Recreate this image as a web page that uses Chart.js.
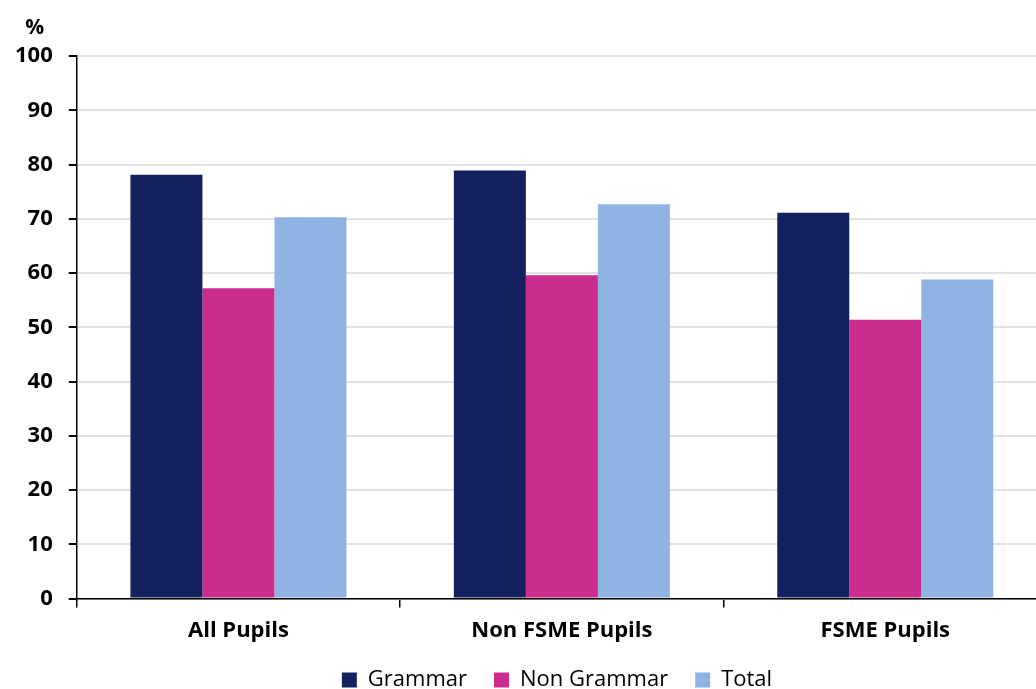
<!DOCTYPE html>
<html>
<head>
<meta charset="utf-8">
<script src="https://cdn.jsdelivr.net/npm/chart.js@4/dist/chart.umd.min.js"></script>
<style>
  html, body { margin: 0; padding: 0; background: #fff; overflow: hidden; }
  #wrap { width: 1110px; height: 689px; }
</style>
</head>
<body>
<div id="wrap"><canvas id="pupilChart"></canvas></div>
<script>
const categories = ['All Pupils', 'Non FSME Pupils', 'FSME Pupils'];
const grammar = [78.1, 78.9, 71.1];
const nonGrammar = [57.2, 59.6, 51.4];
const total = [70.3, 72.7, 58.8];
const yTicks = [0, 10, 20, 30, 40, 50, 60, 70, 80, 90, 100];

const fontFamily = '"Open Sans", Lato, sans-serif';

// "%" unit label above the value axis
const unitLabel = {
  id: 'unitLabel',
  afterDraw(chart) {
    const y = chart.scales.y;
    const c = chart.ctx;
    c.save();
    c.fillStyle = '#000';
    c.font = 'bold 21px ' + fontFamily;
    c.textAlign = 'center';
    c.textBaseline = 'middle';
    c.fillText('%', y.right - 42, y.top - 28);
    c.restore();
  }
};

// legend sits a bit right of the canvas centre in the original
const legendShift = {
  id: 'legendShift',
  afterLayout(chart) {
    chart.legend.left += 34;
    chart.legend.right += 34;
  }
};

const ctx = document.getElementById('pupilChart').getContext('2d');

let chart = new Chart(ctx, {
  type: 'bar',
  data: {
    labels: categories,
    datasets: [
      { label: 'Grammar', data: grammar, backgroundColor: '#15205f' },
      { label: 'Non Grammar', data: nonGrammar, backgroundColor: '#cb2d8f' },
      { label: 'Total', data: total, backgroundColor: '#8fb3e2' }
    ]
  },
  options: {
    responsive: true,
    maintainAspectRatio: false,
    animation: false,
    // canvas is wider than the window so the last category runs past the right edge, like the original
    layout: { padding: { top: 56, right: 63, left: -1, bottom: -12 } },
    datasets: {
      bar: { barPercentage: 1, categoryPercentage: 0.668 }
    },
    scales: {
      x: {
        grid: { drawOnChartArea: false, tickColor: '#000', tickLength: 9, lineWidth: 1.5, offset: true },
        border: { color: '#000', width: 1.5 },
        ticks: { color: '#000', font: { family: fontFamily, size: 22, weight: 'bold' }, padding: 10 },
        afterFit: (scale) => { scale.height -= 12; }
      },
      y: {
        min: 0,
        max: 100,
        afterBuildTicks: (axis) => { axis.ticks = yTicks.map(v => ({ value: v })); },
        grid: { color: '#e3e3e3', lineWidth: 2, tickColor: '#000', tickLength: 8 },
        border: { color: '#000', width: 1.5 },
        ticks: { color: '#000', font: { family: fontFamily, size: 22, weight: 'bold' }, padding: 16 }
      }
    },
    plugins: {
      legend: {
        position: 'bottom',
        labels: {
          color: '#000',
          font: { family: fontFamily, size: 22 },
          boxWidth: 15,
          boxHeight: 15,
          padding: 27
        }
      },
      tooltip: { enabled: false }
    }
  },
  plugins: [unitLabel, legendShift]
});
</script>
</body>
</html>
